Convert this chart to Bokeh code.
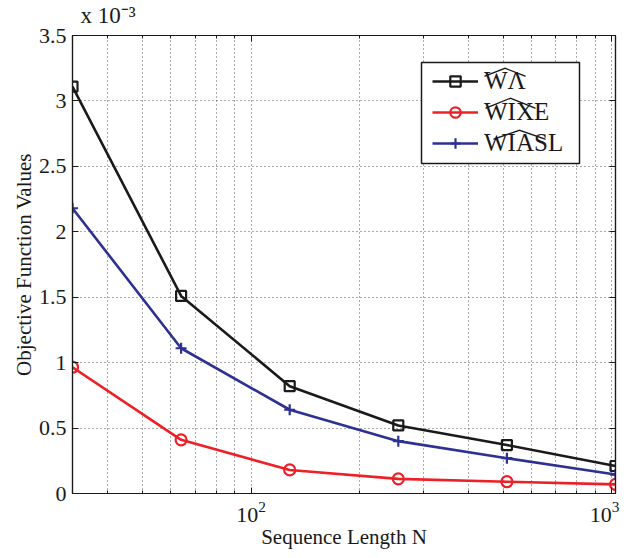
from bokeh.plotting import figure
from bokeh.models import (FixedTicker, CustomJSTickFormatter, LinearAxis, LogAxis,
                          Legend, LegendItem, PolyAnnotation, Range1d)
from bokeh.embed import file_html
from bokeh.resources import INLINE

# ---- data ----
N = [32, 64, 128, 256, 512, 1024]
w_lambda = [3.11e-3, 1.51e-3, 0.82e-3, 0.52e-3, 0.37e-3, 0.21e-3]
w_ixe = [0.965e-3, 0.41e-3, 0.18e-3, 0.112e-3, 0.09e-3, 0.07e-3]
w_iasl = [2.18e-3, 1.11e-3, 0.64e-3, 0.40e-3, 0.27e-3, 0.145e-3]
labels = ["W\u039b", "WIXE", "WIASL"]
y_ticks = [0.0, 0.5e-3, 1.0e-3, 1.5e-3, 2.0e-3, 2.5e-3, 3.0e-3, 3.5e-3]
x_major = [100, 1000]
x_minor = [40, 50, 60, 70, 80, 90, 200, 300, 400, 500, 600, 700, 800, 900]

FONT = "Liberation Serif"
BLACK = "#1a1a1a"
RED = "#ee2027"
BLUE = "#2e3192"

p = figure(x_axis_type="log", output_backend="svg", toolbar_location=None,
           frame_width=543, frame_height=458,
           min_border_left=72, min_border_top=35, min_border_right=0, min_border_bottom=56,
           x_range=Range1d(32, 1024), y_range=Range1d(0, 3.5e-3))
p.background_fill_color = "white"
p.border_fill_color = "white"
p.outline_line_color = BLACK
p.outline_line_width = 1.2

# exponent note above the axes
p.title.text = "x 10\u207b\u00b3"
p.title.align = "left"
p.title.vertical_align = "bottom"
p.title.text_font = FONT
p.title.text_font_size = "23px"
p.title.text_font_style = "normal"
p.title.text_color = BLACK
p.title.offset = 8
p.title.standoff = 0

xt = FixedTicker(ticks=x_major, minor_ticks=x_minor)
yt = FixedTicker(ticks=y_ticks, minor_ticks=[])
yfmt = CustomJSTickFormatter(code="var v=(tick*1000).toFixed(1); return v.endsWith('.0') ? v.slice(0,-2) : v;")
blank = CustomJSTickFormatter(code="return ' ';")

def style_axis(ax):
    ax.axis_line_color = BLACK
    ax.axis_line_width = 1.2
    ax.major_tick_in = 6
    ax.major_tick_out = 0
    ax.minor_tick_in = 3
    ax.minor_tick_out = 0
    ax.major_tick_line_color = BLACK
    ax.minor_tick_line_color = BLACK
    ax.major_label_text_font = FONT
    ax.major_label_text_font_size = "22px"
    ax.major_label_text_color = BLACK
    ax.axis_label_text_font = FONT
    ax.axis_label_text_font_size = "21px"
    ax.axis_label_text_font_style = "normal"
    ax.axis_label_text_color = BLACK

xa = p.xaxis[0]
xa.ticker = xt
xa.axis_label = "Sequence Length N"
xa.axis_label_standoff = 0
xa.major_label_standoff = 8
style_axis(xa)
ya = p.yaxis[0]
ya.ticker = yt
ya.formatter = yfmt
ya.axis_label = "Objective Function Values"
ya.axis_label_standoff = 0
ya.major_label_standoff = 6
style_axis(ya)

top = LogAxis(ticker=xt, formatter=blank)
style_axis(top)
top.major_label_text_font_size = "4px"
top.major_label_standoff = 0
right = LinearAxis(ticker=yt, formatter=blank)
style_axis(right)
right.major_label_text_font_size = "4px"
right.major_label_standoff = 0
p.add_layout(top, "above")
p.add_layout(right, "right")

for g in (p.xgrid[0], p.ygrid[0]):
    g.grid_line_color = "#555555"
    g.grid_line_dash = "1 3"
    g.grid_line_width = 1
p.xgrid[0].ticker = xt
p.xgrid[0].minor_grid_line_color = "#555555"
p.xgrid[0].minor_grid_line_dash = "1 3"
p.ygrid[0].ticker = yt

# legend frame (white box, screen units from the frame's bottom-left corner)
p.add_layout(PolyAnnotation(xs=[349, 507, 507, 349], ys=[330, 330, 431, 431],
                            xs_units="screen", ys_units="screen", fill_color="white", fill_alpha=1,
                            line_color=BLACK, line_width=1.5, line_alpha=1, level="overlay"))

l1 = p.line(N, w_lambda, line_color=BLACK, line_width=2.6)
s1 = p.scatter(N, w_lambda, marker="square", size=10, line_color=BLACK, line_width=2.2, fill_color=None)
l2 = p.line(N, w_ixe, line_color=RED, line_width=2.6)
s2 = p.scatter(N, w_ixe, marker="circle", size=11, line_color=RED, line_width=2.2, fill_color=None)
l3 = p.line(N, w_iasl, line_color=BLUE, line_width=2.6)
s3 = p.scatter(N, w_iasl, marker="cross", size=11, line_color=BLUE, line_width=2.2)
items = [LegendItem(label=labels[0], renderers=[l1, s1]),
         LegendItem(label=labels[1], renderers=[l2, s2]),
         LegendItem(label=labels[2], renderers=[l3, s3])]
leg = Legend(items=items, location=(355, 331))
leg.label_text_font = FONT
leg.label_text_font_size = "25px"
leg.label_text_color = BLACK
leg.glyph_width = 46
leg.glyph_height = 26
leg.label_standoff = 6
leg.label_height = 26
leg.spacing = 3
leg.padding = 5
leg.margin = 0
leg.border_line_alpha = 0
leg.background_fill_alpha = 0
p.add_layout(leg, "center")

# hats over legend labels
def hat(x0, x1, peak, base, t=1.4):
    xm = (x0 + x1) / 2
    xs = [x0, xm, x1, x1, xm, x0]
    ys = [base, peak, base, base - t, peak - t, base - t]
    return PolyAnnotation(xs=xs, ys=ys, xs_units="screen", ys_units="screen",
                          fill_color=BLACK, fill_alpha=1, line_alpha=0, level="overlay")
for h in [(412, 453, 426, 418), (413, 463, 396, 386), (421, 473, 364, 355)]:
    p.add_layout(hat(*h))

open("out.html", "w").write(file_html(p, INLINE))
